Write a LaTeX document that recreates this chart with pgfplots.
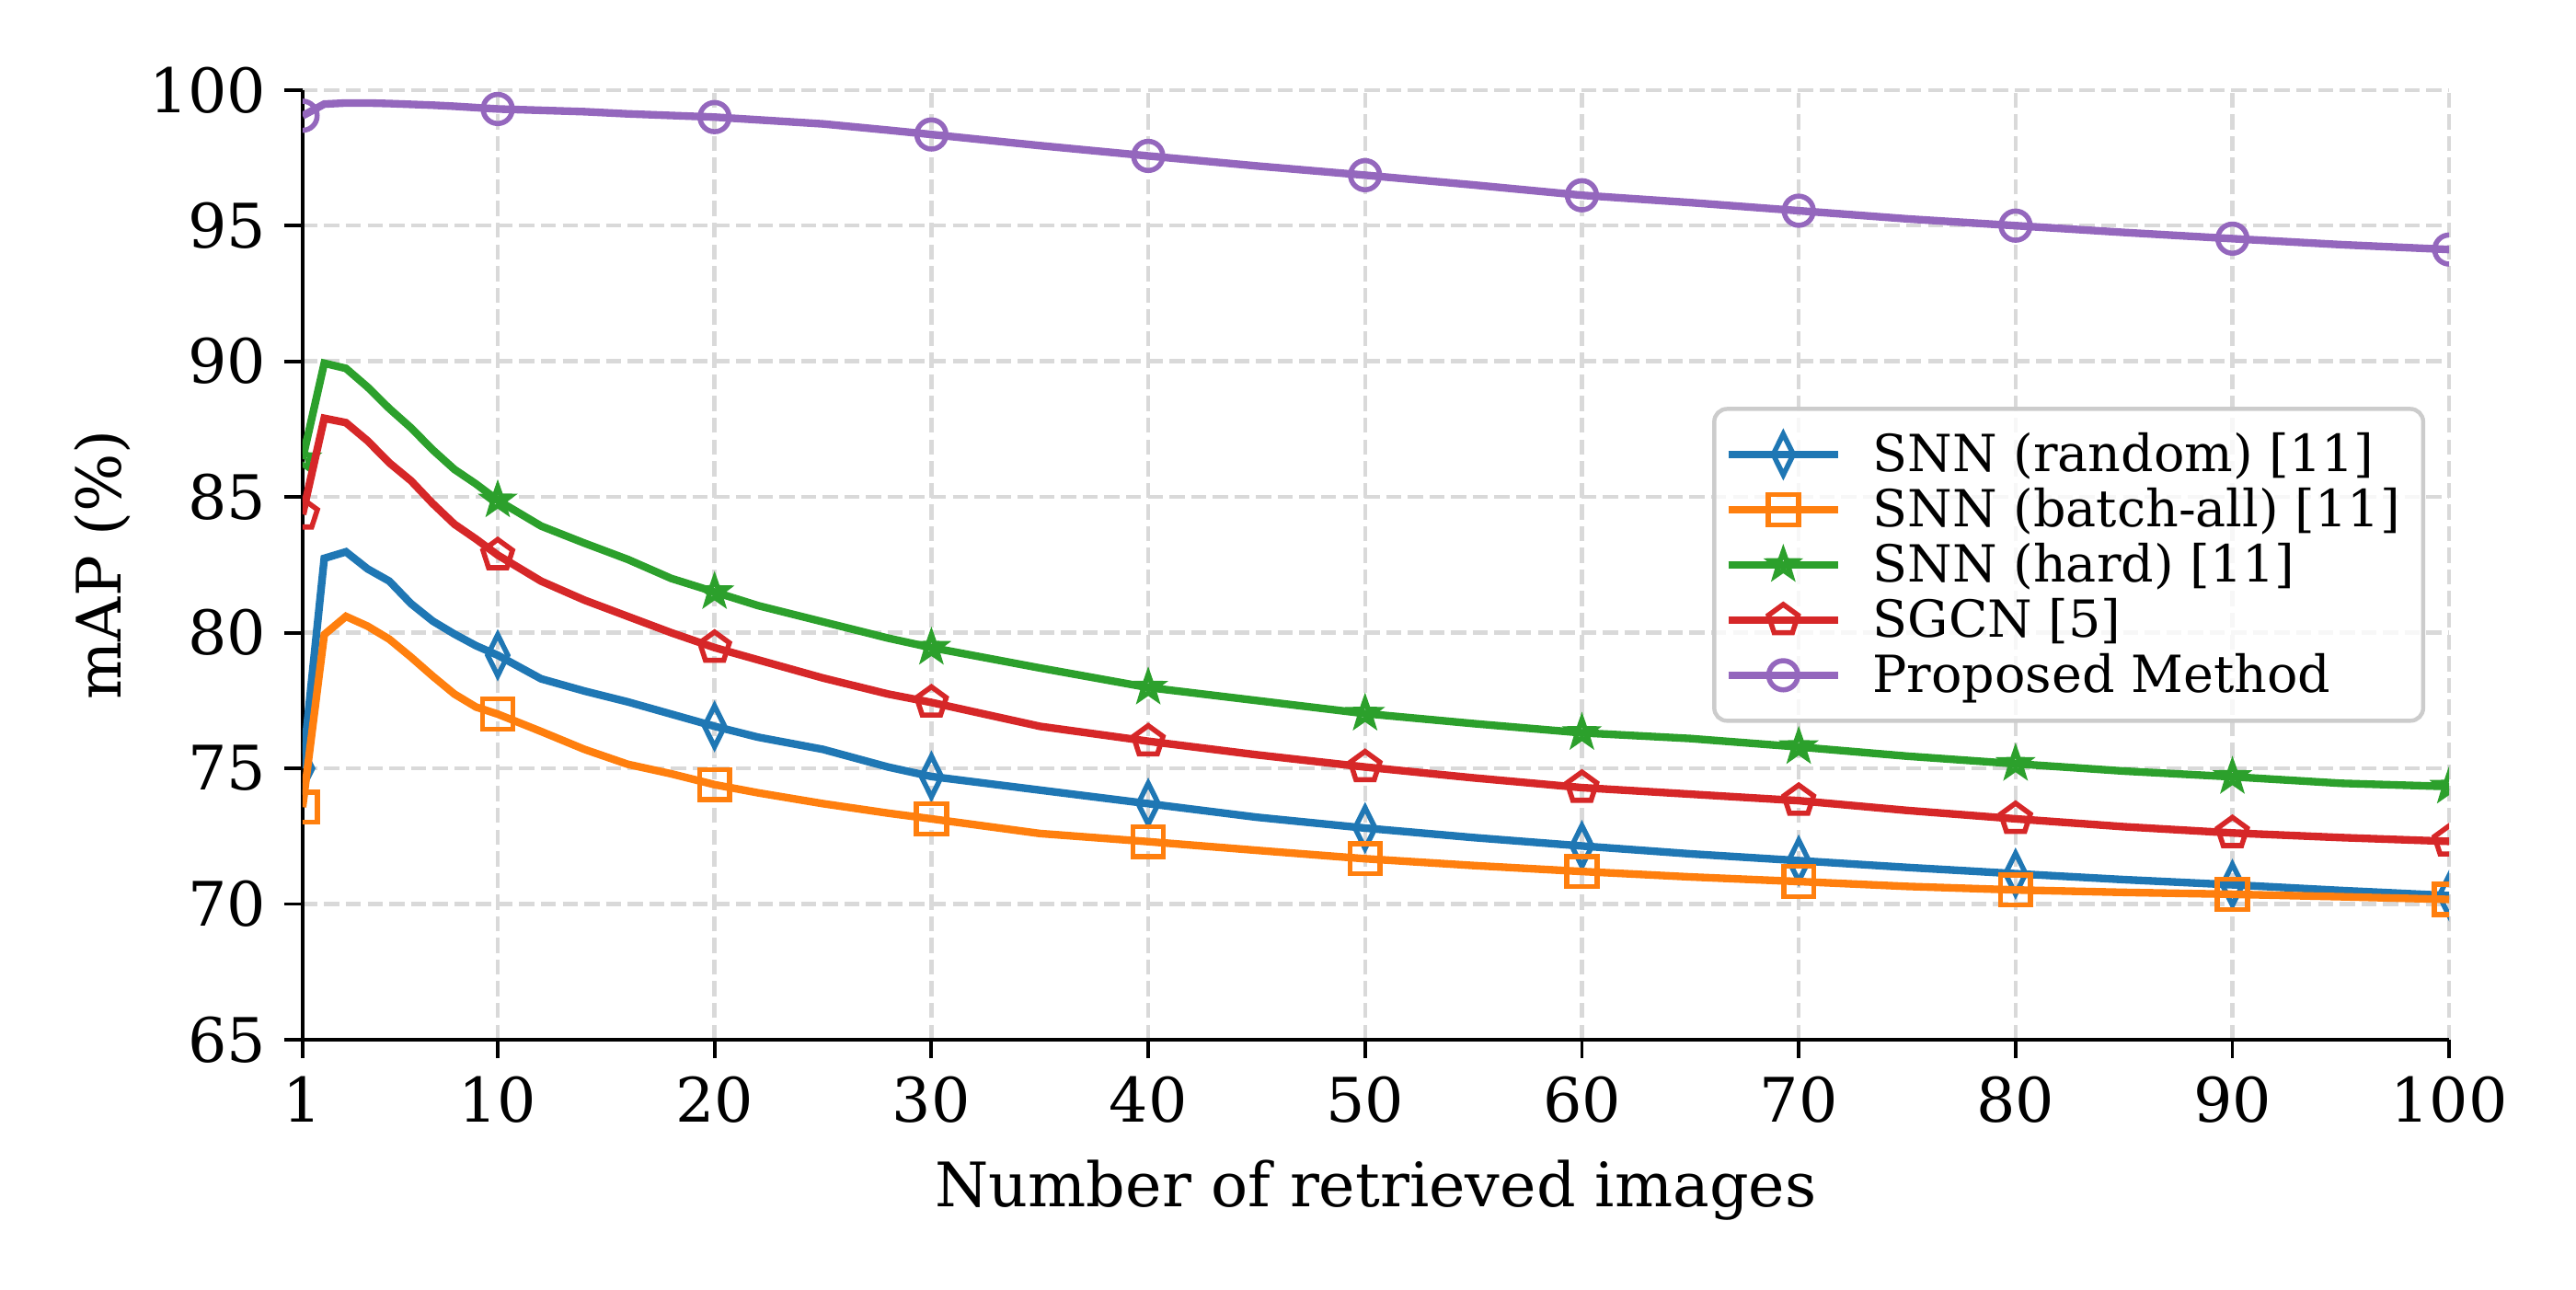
\documentclass[border=0pt]{standalone}
\usepackage{fontspec}
\setmainfont{DejaVu Serif}
\usepackage{pgfplots}
\usepackage{pgfplotstable}
\pgfplotsset{compat=1.18}
\definecolor{tabblue}{HTML}{1F77B4}
\definecolor{taborange}{HTML}{FF7F0E}
\definecolor{tabgreen}{HTML}{2CA02C}
\definecolor{tabred}{HTML}{D62728}
\definecolor{tabpurple}{HTML}{9467BD}
\definecolor{gridgray}{HTML}{D9D9D9}
\definecolor{legframe}{HTML}{CCCCCC}

\pgfdeclareplotmark{ostar}{%
  \pgfpathmoveto{\pgfpointpolar{90}{\pgfplotmarksize}}%
  \pgfpathlineto{\pgfpointpolar{126}{0.4\pgfplotmarksize}}%
  \pgfpathlineto{\pgfpointpolar{162}{\pgfplotmarksize}}%
  \pgfpathlineto{\pgfpointpolar{198}{0.4\pgfplotmarksize}}%
  \pgfpathlineto{\pgfpointpolar{234}{\pgfplotmarksize}}%
  \pgfpathlineto{\pgfpointpolar{270}{0.4\pgfplotmarksize}}%
  \pgfpathlineto{\pgfpointpolar{306}{\pgfplotmarksize}}%
  \pgfpathlineto{\pgfpointpolar{342}{0.4\pgfplotmarksize}}%
  \pgfpathlineto{\pgfpointpolar{18}{\pgfplotmarksize}}%
  \pgfpathlineto{\pgfpointpolar{54}{0.4\pgfplotmarksize}}%
  \pgfpathclose
  \pgfusepathqstroke
}

\pgfplotstableread{
x   b      o      g      r      p
1   75.00  73.57  86.40  84.36  99.05
2   82.74  79.93  89.93  87.90  99.48
3   82.98  80.60  89.74  87.74  99.52
4   82.35  80.24  89.05  87.07  99.52
5   81.90  79.76  88.26  86.26  99.50
6   81.07  79.10  87.55  85.60  99.47
7   80.43  78.40  86.74  84.76  99.44
8   79.95  77.74  86.02  84.00  99.40
9   79.52  77.26  85.48  83.45  99.35
10  79.17  77.00  84.88  82.86  99.30
12  78.30  76.36  83.93  81.90  99.25
14  77.85  75.70  83.30  81.20  99.20
16  77.45  75.15  82.70  80.60  99.12
18  77.00  74.80  82.00  80.00  99.06
20  76.55  74.40  81.50  79.45  99.00
22  76.15  74.10  81.00  79.00  98.90
25  75.70  73.70  80.40  78.33  98.75
28  75.05  73.35  79.80  77.74  98.52
30  74.70  73.14  79.45  77.43  98.36
35  74.20  72.60  78.70  76.55  97.95
40  73.70  72.30  77.98  76.00  97.57
45  73.20  71.98  77.50  75.50  97.20
50  72.80  71.67  77.02  75.05  96.86
55  72.45  71.42  76.65  74.65  96.50
60  72.14  71.20  76.31  74.29  96.12
65  71.85  71.00  76.10  74.05  95.85
70  71.60  70.83  75.79  73.81  95.55
75  71.35  70.65  75.45  73.45  95.25
80  71.12  70.52  75.17  73.14  95.00
85  70.90  70.43  74.90  72.85  94.75
90  70.71  70.36  74.69  72.62  94.52
95  70.50  70.27  74.45  72.45  94.30
100 70.31  70.17  74.33  72.31  94.12
}\mydata

\begin{document}
\begin{tikzpicture}
\useasboundingbox (-59.2pt,-48.8pt) rectangle (444.8pt,203.4pt);
\begin{axis}[
  at={(0,0)}, anchor=south west,
  width=420pt, height=185.8pt, scale only axis,
  xmin=1, xmax=100, ymin=65, ymax=100,
  xtick={1,10,20,30,40,50,60,70,80,90,100},
  ytick={65,70,75,80,85,90,95,100},
  axis lines*=left,
  axis line style={-, line width=0.75pt, black},
  tick align=outside,
  major tick length=3.6pt,
  tick style={black, line width=0.7pt},
  grid=major,
  grid style={color=gridgray, line width=0.8pt, dash pattern=on 2.96pt off 1.28pt},
  clip marker paths=true,
  /pgf/number format/assume math mode=true,
  ticklabel style={font=\fontsize{12}{14}\selectfont},
  label style={font=\fontsize{12}{14}\selectfont},
  xlabel={Number of retrieved images},
  ylabel={mAP (\%)},
  xlabel style={at={([yshift=-32.6pt]axis description cs:0.5,0)}, anchor=base},
  ylabel style={at={([xshift=-39.2pt]axis description cs:0,0.5)}, anchor=center},
  every axis plot/.append style={line width=1.5pt},
  mark indices={1,10,15,19,21,23,25,27,29,31,33},
  legend image code/.code={\draw[#1, mark indices={2}] plot coordinates {(0pt,0pt) (10.75pt,0pt) (21.5pt,0pt)};},
  legend cell align=left,
  legend style={
    at={(1,0.5)}, xshift=-4.7pt, anchor=east,
    draw=legframe, line width=0.8pt, rounded corners=2.5pt,
    fill=white, fill opacity=0.8, text opacity=1, draw opacity=1,
    font=\fontsize{10}{12}\selectfont,
    inner xsep=2pt, inner ysep=4pt, row sep=1.0pt, column sep=3.5pt,
    nodes={inner ysep=0pt, inner xsep=2.5pt, text height=8.2pt, text depth=1.6pt},
  },
]
\addplot[color=tabblue, mark=diamond, mark size=4pt, mark options={solid, line width=1pt, xscale=0.66}] table[x=x, y=b] {\mydata};
\addlegendentry{SNN (random) [11]}
\addplot[color=taborange, mark=square, mark size=2.95pt, mark options={solid, line width=1pt}] table[x=x, y=o] {\mydata};
\addlegendentry{SNN (batch-all) [11]}
\addplot[color=tabgreen, mark=ostar, mark size=2.6pt, mark options={solid, line width=1pt}] table[x=x, y=g] {\mydata};
\addlegendentry{SNN (hard) [11]}
\addplot[color=tabred, mark=pentagon, mark size=3.05pt, mark options={solid, line width=1pt}] table[x=x, y=r] {\mydata};
\addlegendentry{SGCN [5]}
\addplot[color=tabpurple, mark=o, mark size=2.85pt, mark options={solid, line width=1pt}] table[x=x, y=p] {\mydata};
\addlegendentry{Proposed Method}
\end{axis}
\end{tikzpicture}
\end{document}
